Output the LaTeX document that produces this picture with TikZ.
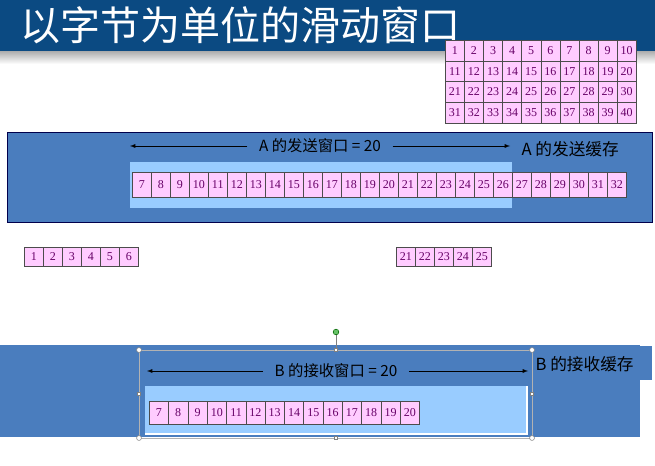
\documentclass[tikz,border=0pt]{standalone}
\usepackage{fontspec}
\setmainfont{Liberation Serif}
\newfontfamily\cjk{Noto Sans CJK SC}
\begin{document}
\begin{tikzpicture}[x=0.75pt,y=-0.75pt,
  cell/.style={draw=black!70,text=violet!80!black,inner sep=0pt,font=\fontsize{9}{9}\selectfont,anchor=north west},
  lbl/.style={font=\cjk\fontsize{11.5}{12}\selectfont,inner sep=1pt},
  handle/.style={circle,draw=gray,fill=white,inner sep=1.3pt},
  hsq/.style={rectangle,draw=gray,fill=white,inner sep=1.2pt}]
\definecolor{bandc}{HTML}{4A7DBE}
\definecolor{winc}{HTML}{99CCFF}
\definecolor{cellc}{HTML}{FFCCFF}
\definecolor{titlec}{HTML}{0B4A82}
\tikzset{cell/.append style={fill=cellc}}
\useasboundingbox (0,0) rectangle (655,466);
\fill[white] (0,0) rectangle (655,466);
% title
\fill[titlec] (0,0) rectangle (655,52);
\shade[top color=gray!60,bottom color=white] (0,52) rectangle (655,64);
\node[anchor=west,text=white,font=\cjk\fontsize{30}{31}\selectfont,inner sep=0pt] (title) at (20,25) {以字节为单位的滑动窗口};
% grid
\foreach \r in {0,...,3}{\foreach \c in {1,...,10}{
  \pgfmathtruncatemacro\n{\r*10+\c}
  \node[cell,minimum width=19.1*0.75pt,minimum height=20.7*0.75pt] (g\n) at ({445+(\c-1)*19.1},{40+\r*20.7}) {\n};}}
% A band
\fill[bandc] (7,132) rectangle (652,222);
\draw[blue!30!black,line width=0.4pt] (7,132) rectangle (652,222);
\fill[winc] (130,162) rectangle (512,208);
\foreach \i in {7,...,32}{
  \node[cell,minimum width=19*0.75pt,minimum height=25*0.75pt] (a\i) at ({132+(\i-7)*19},172) {\i};}
\node[lbl] (atxt) at (320,146) {A 的发送窗口 = 20};
\coordinate (al) at (130,146); \coordinate (ar) at (510,146);
\draw[-latex] (atxt.west) ++(-10,0) -- (al);
\draw[-latex] (atxt.east) ++(10,0) -- (ar);
\node[lbl,anchor=west,font=\cjk\fontsize{12.5}{13}\selectfont] (abuf) at (520,149) {A 的发送缓存};
% loose cells
\foreach \i in {1,...,6}{
  \node[cell,minimum width=19*0.75pt,minimum height=19*0.75pt] (l\i) at ({24+(\i-1)*19},247) {\i};}
\foreach \i in {21,...,25}{
  \node[cell,minimum width=19*0.75pt,minimum height=19*0.75pt] (m\i) at ({396+(\i-21)*19},247) {\i};}
% B band
\fill[bandc] (0,345) rectangle (640,437);
\fill[bandc] (530,346) rectangle (652,380);
\fill[winc] (145,386) rectangle (527,434);
\draw[white,line width=1pt] (145,434) -- (527,434) -- (527,386);
\foreach \i in {7,...,20}{
  \node[cell,minimum width=19.3*0.75pt,minimum height=23*0.75pt] (b\i) at ({149+(\i-7)*19.3},401) {\i};}
\node[lbl] (btxt) at (336,371) {B 的接收窗口 = 20};
\coordinate (bl) at (147,371); \coordinate (br) at (528,371);
\draw[-latex] (btxt.west) ++(-10,0) -- (bl);
\draw[-latex] (btxt.east) ++(10,0) -- (br);
\node[lbl,anchor=west,font=\cjk\fontsize{12.5}{13}\selectfont] (bbuf) at (534,364) {B 的接收缓存};
% selection handles
\draw[gray!60,line width=0.3pt] (139,350) rectangle (532,438);
\draw[gray] (336,350) -- (336,332);
\node[circle,draw=green!40!black,fill=green!60!black!60,inner sep=1.5pt] (rot) at (336,332) {};
\foreach \p in {(139,350),(532,350),(139,438),(532,438)} \node[handle] at \p {};
\foreach \p in {(336,350),(336,438),(139,394),(532,394)} \node[hsq] at \p {};
\end{tikzpicture}
\end{document}
